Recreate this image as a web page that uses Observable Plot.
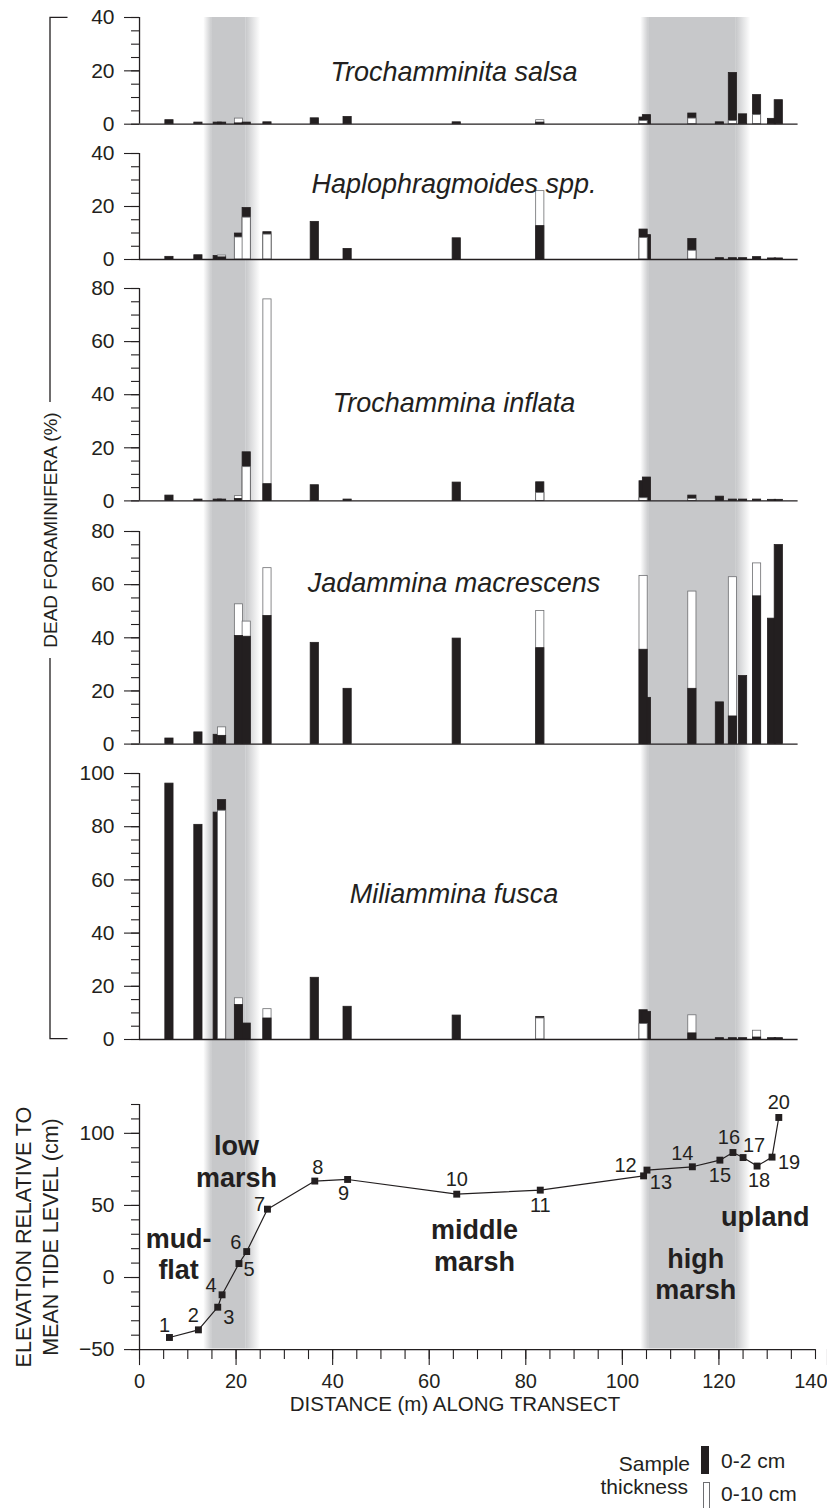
<!DOCTYPE html>
<html>
<head>
<meta charset="utf-8">
<script src="https://cdn.jsdelivr.net/npm/d3@7"></script>
<script src="https://cdn.jsdelivr.net/npm/@observablehq/plot@0.6"></script>
<style>
  body { margin: 0; background: #fff; font-family: "Liberation Sans", Arial, Helvetica, sans-serif; color: #231f20; }
  #root { position: relative; width: 827px; height: 1508px; overflow: hidden; background: #fff; }
  #root > svg, #root > div.layer { position: absolute; left: 0; }
  .legend { position: absolute; font-size: 21px; color: #231f20; line-height: 1; }
</style>
</head>
<body>
<div id="root"></div>
<script>
// ---------------- DATA ----------------
const stations = [1, 2, 3, 4, 5, 6, 7, 8, 9, 10, 11, 12, 13, 14, 15, 16, 17, 18, 19, 20];
const distance = [6.2, 12.2, 16.2, 17.1, 20.6, 22.2, 26.5, 36.3, 43.1, 65.7, 83.0, 104.4, 105.1, 114.5, 120.2, 122.9, 125.0, 127.9, 131.0, 132.4];
const elevation = [-41.6, -36.3, -20.6, -12.0, 9.7, 18.0, 47.4, 66.9, 68.0, 57.8, 60.6, 70.5, 74.5, 76.8, 81.4, 86.7, 83.2, 77.3, 83.5, 111.0];

// percent of dead foraminifera, 0-2 cm samples (black) and 0-10 cm samples (white)
const salsa_0_2   = [1.5, 0.6, 0.6, 0.6, 0.3, 0.6, 0.7, 2.2, 2.7, 0.7, 0.6, 2.5, 3.4, 4.0, 0.7, 19.2, 3.7, 10.9, 2.0, 9.0];
const salsa_0_10  = [0, 0, 0, 0, 2.1, 0, 0, 0, 0, 0, 1.5, 1.2, 0, 2.1, 0, 1.2, 0, 3.4, 0, 0];
const haplo_0_2   = [1.0, 1.6, 1.3, 0.8, 9.8, 19.4, 10.3, 14.2, 4.0, 8.0, 12.6, 11.3, 9.2, 7.7, 0.5, 0.5, 0.5, 0.9, 0.4, 0.4];
const haplo_0_10  = [0, 0, 0, 1.5, 8.3, 15.8, 9.4, 0, 0, 0, 25.8, 8.1, 0, 3.3, 0, 0, 0, 0, 0, 0];
const inflata_0_2  = [2.0, 0.5, 0.5, 0.5, 0.75, 18.3, 6.3, 5.9, 0.5, 6.9, 7.0, 7.4, 8.8, 2.0, 1.6, 0.5, 0.5, 0.5, 0.4, 0.4];
const inflata_0_10 = [0, 0, 0, 0, 1.8, 12.7, 75.9, 0, 0, 0, 3.0, 1.0, 0, 0.75, 0, 0, 0, 0, 0, 0];
const macro_0_2   = [2.1, 4.4, 3.5, 3.1, 40.7, 40.4, 48.2, 38.1, 20.8, 39.7, 36.1, 35.5, 17.4, 20.8, 15.7, 10.4, 25.6, 55.6, 47.2, 74.9];
const macro_0_10  = [0, 0, 0, 6.3, 52.6, 46.1, 66.2, 0, 0, 0, 50.1, 63.3, 0, 57.4, 0, 62.8, 0, 68.0, 0, 0];
const fusca_0_2   = [96.2, 80.7, 85.3, 90.0, 13.0, 6.0, 7.9, 23.2, 12.3, 9.0, 8.5, 11.0, 10.4, 2.3, 0.5, 0.5, 0.5, 0.75, 0.5, 0.5];
const fusca_0_10  = [0, 0, 0, 86.0, 15.5, 0, 11.4, 0, 0, 0, 7.9, 5.8, 0, 9.1, 0, 0, 0, 3.3, 0, 0];

const speciesNames = ["Trochamminita salsa", "Haplophragmoides spp.", "Trochammina inflata", "Jadammina macrescens", "Miliammina fusca"];
const zoneNames = ["mud-\nflat", "low\nmarsh", "middle\nmarsh", "high\nmarsh", "upland"];
const lowMarshZone = [13.3, 25.1];   // metres along transect
const highMarshZone = [103.8, 126.6];
const yTicksLabels = { bars: 20, elevation: 50 };
const xTickLabels = [0, 20, 40, 60, 80, 100, 120];
const xTickLast = [140];

// ---------------- STYLE / LAYOUT ----------------
const W = 827, ML = 139, MR = 12;
const INK = "#231f20";
const BAND = "#c7c8ca";
const HALF = 0.85; // half bar width (m)
const FONT = '"Liberation Sans", Arial, Helvetica, sans-serif';
const root = document.getElementById("root");

const baseStyle = {
  background: "transparent", overflow: "visible", fontFamily: FONT,
  color: INK, fontSize: "21px"
};

// background bands (marsh zones)
const bandRects = [lowMarshZone, highMarshZone].flatMap(([a, b]) => [
  {x1: a, x2: a + 1.8, fill: "url(#fadeIn)"},
  {x1: a + 1.8, x2: b - 3.0, fill: BAND},
  {x1: b - 3.0, x2: b, fill: "url(#fadeOut)"}
]);
const bgTop = 17.3, bgBottom = 1348.8;
const bg = Plot.plot({
  width: W, height: bgBottom - bgTop,
  marginLeft: ML, marginRight: MR, marginTop: 0, marginBottom: 0,
  x: {domain: [0, 140], axis: null},
  style: baseStyle,
  marks: [
    Plot.rect(bandRects.filter(d => d.fill === BAND), {x1: "x1", x2: "x2", fill: BAND}),
    Plot.rect(bandRects.filter(d => d.fill === "url(#fadeIn)"), {x1: "x1", x2: "x2", fill: "url(#fadeIn)"}),
    Plot.rect(bandRects.filter(d => d.fill === "url(#fadeOut)"), {x1: "x1", x2: "x2", fill: "url(#fadeOut)"})
  ]
});
{
  const defs = d3.select(bg).insert("defs", ":first-child");
  const g1 = defs.append("linearGradient").attr("id", "fadeIn").attr("x1", 0).attr("x2", 1).attr("y1", 0).attr("y2", 0);
  g1.append("stop").attr("offset", 0).attr("stop-color", BAND).attr("stop-opacity", 0);
  g1.append("stop").attr("offset", 1).attr("stop-color", BAND).attr("stop-opacity", 1);
  const g2 = defs.append("linearGradient").attr("id", "fadeOut").attr("x1", 0).attr("x2", 1).attr("y1", 0).attr("y2", 0);
  g2.append("stop").attr("offset", 0).attr("stop-color", BAND).attr("stop-opacity", 1);
  g2.append("stop").attr("offset", 1).attr("stop-color", BAND).attr("stop-opacity", 0);
}
bg.style.top = bgTop + "px";
root.appendChild(bg);

// ---------------- BAR PANELS ----------------
const panels = [
  {name: speciesNames[0], thin: salsa_0_2, thick: salsa_0_10, max: 40, top: 17.3, bottom: 124.0, titleDy: 44.4},
  {name: speciesNames[1], thin: haplo_0_2, thick: haplo_0_10, max: 40, top: 153.3, bottom: 259.3, titleDy: 20},
  {name: speciesNames[2], thin: inflata_0_2, thick: inflata_0_10, max: 80, top: 288.3, bottom: 500.7, titleDy: 104.4},
  {name: speciesNames[3], thin: macro_0_2, thick: macro_0_10, max: 80, top: 530.7, bottom: 743.3, titleDy: 41},
  {name: speciesNames[4], thin: fusca_0_2, thick: fusca_0_10, max: 100, top: 772.7, bottom: 1038.7, titleDy: 110.6}
];

panels.forEach(p => {
  const recs = [];
  distance.forEach((x, i) => {
    const pair = [{v: p.thin[i], k: "thin"}, {v: p.thick[i], k: "thick"}]
      .filter(r => r.v > 0).sort((a, b) => b.v - a.v);
    pair.forEach((r, layer) => recs.push({x, v: r.v, k: r.k, layer, i}));
  });
  recs.sort((a, b) => a.layer - b.layer || a.i - b.i);
  const mt = 14, mb = 14;
  const svg = Plot.plot({
    width: W, height: (p.bottom - p.top) + mt + mb,
    marginLeft: ML, marginRight: MR, marginTop: mt, marginBottom: mb,
    x: {domain: [0, 140], axis: null},
    y: {domain: [0, p.max], axis: null},
    color: {type: "identity"},
    style: baseStyle,
    marks: [
      Plot.rect(recs, {
        x1: d => d.x - HALF, x2: d => d.x + HALF, y1: 0, y2: "v",
        fill: d => d.k === "thin" ? INK : "#ffffff",
        stroke: d => d.k === "thin" ? INK : "#6d6e71",
        strokeWidth: 0.8
      }),
      Plot.ruleY([0], {x1: 0, x2: 136.4, stroke: INK, strokeWidth: 1.3}),
      Plot.ruleX([0], {y1: 0, y2: p.max, stroke: INK, strokeWidth: 1.3}),
      Plot.axisY({ticks: d3.range(0, p.max + 1, 5), tickSize: 8, tickFormat: () => "", label: null, strokeWidth: 1.1}),
      Plot.axisY({ticks: d3.range(0, p.max + 1, yTicksLabels.bars), tickSize: 15, tickPadding: 10, fontSize: 21, label: null, strokeWidth: 1.1}),
      Plot.text([p.name], {frameAnchor: "top", dx: -23.5, dy: p.titleDy, text: d => d, fontStyle: "italic", fontSize: 27, fill: INK})
    ]
  });
  svg.style.top = (p.top - mt) + "px";
  root.appendChild(svg);
});

// ---------------- ELEVATION PANEL ----------------
const elevData = stations.map((s, i) => ({s, x: distance[i], y: elevation[i]}));
const labelOffset = {1: [-5, -12], 2: [-5, -14], 3: [11, 10], 4: [-11, -9], 5: [10, 6], 6: [-11, -9], 7: [-8, -5],
  8: [3, -13], 9: [-4, 14], 10: [0, -15], 11: [0, 15], 12: [-18, -10], 13: [14, 12], 14: [-10, -13], 15: [0, 15],
  16: [-4, -15], 17: [11, -12], 18: [2, 15], 19: [17, 5], 20: [0, -15]};
const zonePos = [[8.1, 16.8], [20.1, 80.9], [69.4, 22.7], [115.2, 2.9], [129.6, 42.8]];
const eTop = 1103.7, eBottom = 1348.8, emt = 14, emb = 80;
const elev = Plot.plot({
  width: W, height: (eBottom - eTop) + emt + emb,
  marginLeft: ML, marginRight: MR, marginTop: emt, marginBottom: emb,
  x: {domain: [0, 140], axis: null},
  y: {domain: [-50, 120], axis: null},
  style: baseStyle,
  marks: [
    Plot.ruleX([0], {y1: -50, y2: 120, stroke: INK, strokeWidth: 1.3}),
    Plot.ruleY([-50], {x1: 0, x2: 140, stroke: INK, strokeWidth: 1.3}),
    Plot.axisY({ticks: d3.range(-50, 121, 10), tickSize: 8, tickFormat: () => "", label: null, strokeWidth: 1.1}),
    Plot.axisY({ticks: d3.range(-50, 101, yTicksLabels.elevation), tickSize: 15, tickPadding: 10, fontSize: 21, label: null, strokeWidth: 1.1}),
    Plot.axisX({ticks: d3.range(0, 141, 5), tickSize: 10, tickFormat: () => "", label: null, strokeWidth: 1.1}),
    Plot.axisX({ticks: xTickLabels, tickSize: 16, tickPadding: 8, fontSize: 20, label: null, strokeWidth: 1.1}),
    Plot.axisX({ticks: xTickLast, tickSize: 16, tickPadding: 8, fontSize: 20, label: null, strokeWidth: 1.1, textAnchor: "end", dx: 12}),
    Plot.line(elevData, {x: "x", y: "y", stroke: INK, strokeWidth: 1.2}),
    Plot.dot(elevData, {x: "x", y: "y", symbol: "square", r: 3.9, fill: INK, stroke: "none"}),
    ...elevData.map(d => Plot.text([d], {x: "x", y: "y", text: d => String(d.s), dx: labelOffset[d.s][0], dy: labelOffset[d.s][1], fontSize: 20, fill: INK})),
    ...zoneNames.map((z, i) => Plot.text([z], {x: () => zonePos[i][0], y: () => zonePos[i][1], text: d => d, fontSize: 27, fontWeight: "bold", lineHeight: 1.17, fill: INK})),
    Plot.text(["ELEVATION RELATIVE TO\nMEAN TIDE LEVEL (cm)"], {frameAnchor: "left", textAnchor: "middle", rotate: -90, dx: -103.5, dy: 10, text: d => d, fontSize: 21.5, lineHeight: 1.26, fill: INK}),
    Plot.text(["DISTANCE (m) ALONG TRANSECT"], {frameAnchor: "bottom", dx: -22.5, dy: 61, text: d => d, fontSize: 20.5, fill: INK})
  ]
});
elev.style.top = (eTop - emt) + "px";
root.appendChild(elev);

// ---------------- DEAD FORAMINIFERA bracket ----------------
const ns = "http://www.w3.org/2000/svg";
const br = document.createElementNS(ns, "svg");
br.setAttribute("width", 120); br.setAttribute("height", 1100);
br.style.top = "0px";
const yTop = 17.3, yBot = 1038.7, xL = 50, xR = 67.5, tc = 530, half = 128;
br.innerHTML = `<path d="M${xR},${yTop}H${xL}V${tc - half}M${xL},${tc + half}V${yBot}H${xR}" fill="none" stroke="${INK}" stroke-width="1.3"/>
<text transform="translate(${xL + 7},${tc}) rotate(-90)" text-anchor="middle" font-family='${FONT}' font-size="19" fill="${INK}">DEAD FORAMINIFERA (%)</text>`;
root.appendChild(br);

// ---------------- LEGEND ----------------
const leg = document.createElement("div");
leg.className = "legend";
leg.style.left = "0px"; leg.style.top = "0px"; leg.style.width = "827px"; leg.style.height = "1508px";
leg.innerHTML = `
<div style="position:absolute;right:${827 - 690}px;top:1453px;text-align:right">Sample</div>
<div style="position:absolute;right:${827 - 688}px;top:1476px;text-align:right">thickness</div>
<div style="position:absolute;left:701px;top:1446px;width:8px;height:28px;background:${INK}"></div>
<div style="position:absolute;left:702.5px;top:1482px;width:5px;height:30px;background:#fff;border:1px solid #6d6e71"></div>
<div style="position:absolute;left:721px;top:1450px">0-2 cm</div>
<div style="position:absolute;left:721px;top:1483px">0-10 cm</div>`;
root.appendChild(leg);
</script>
</body>
</html>
